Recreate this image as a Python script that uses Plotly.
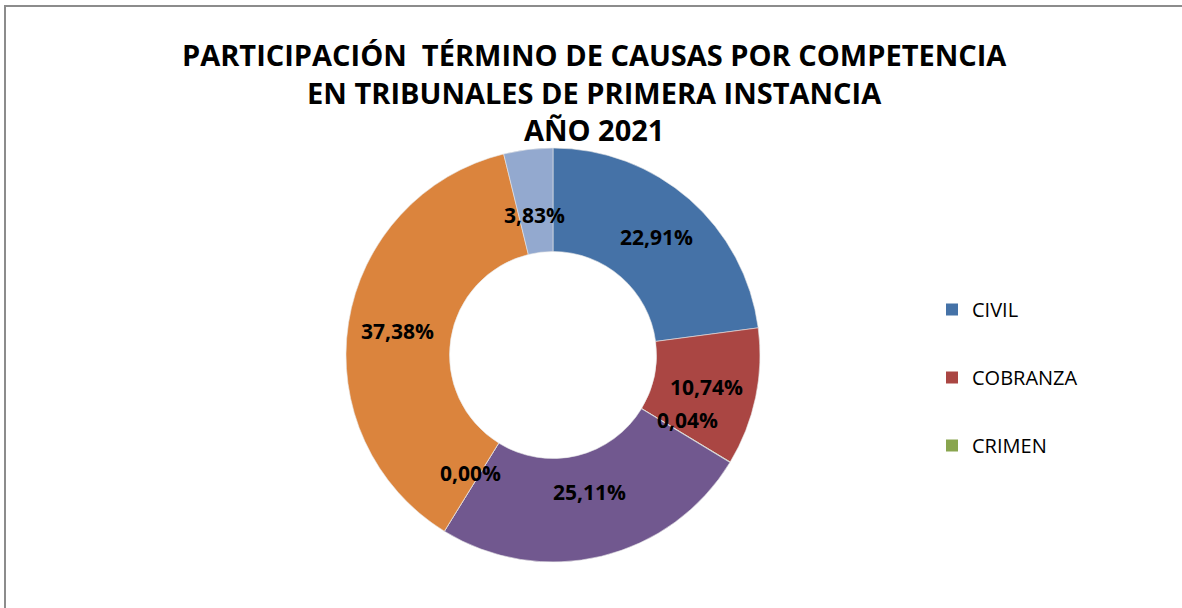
import math
import plotly.graph_objects as go

categorias = ['CIVIL', 'COBRANZA', 'CRIMEN', 'FAMILIA', 'MENORES', 'GARANTÍA', 'LABORAL']
porcentajes = [22.91, 10.74, 0.04, 25.11, 0.00, 37.38, 3.83]
colores = ['#4572A7', '#AA4643', '#89A54E', '#71588F', '#4198AF', '#DB843D', '#93A9CF']
en_leyenda = ['CIVIL', 'COBRANZA', 'CRIMEN']

W, H = 1182, 608
# pie center / radius in pixels
cx_px, cy_px, rad_px = 553, 355, 207

fig = go.Figure()
fig.add_trace(go.Pie(
    labels=categorias, values=porcentajes, sort=False, direction='clockwise',
    rotation=0, hole=0.5, textinfo='none', hoverinfo='label+percent',
    marker=dict(colors=colores, line=dict(color='#e8e8e8', width=0.6)),
    domain=dict(x=[(cx_px - rad_px) / W, (cx_px + rad_px) / W],
                y=[1 - (cy_px + rad_px) / H, 1 - (cy_px - rad_px) / H]),
    showlegend=False,
))

# data labels, placed at mid angle of each slice
total = sum(porcentajes)
acum = 0
for v in porcentajes:
    mid = (acum + v / 2) / total * 2 * math.pi
    acum += v
    r = 0.76 * rad_px
    fig.add_annotation(
        x=(cx_px + r * math.sin(mid)) / W, y=1 - (cy_px - r * math.cos(mid)) / H,
        xref='paper', yref='paper', showarrow=False,
        text='<b>' + f'{v:.2f}'.replace('.', ',') + '%</b>',
        font=dict(family='Open Sans', size=21, color='#000000'))

# title
fig.add_annotation(
    x=594 / W, y=1 - 92 / H, xref='paper', yref='paper', showarrow=False,
    xanchor='center', yanchor='middle', align='center',
    text='<b>PARTICIPACIÓN  TÉRMINO DE CAUSAS POR COMPETENCIA<br>'
         'EN TRIBUNALES DE PRIMERA INSTANCIA<br>AÑO 2021</b>',
    font=dict(family='Open Sans', size=29, color='#000000'))

# legend entries (only first three, like the original)
for i, nombre in enumerate(en_leyenda):
    fig.add_trace(go.Scatter(
        x=[None], y=[None], mode='markers', name=nombre, legendgroup=nombre,
        marker=dict(symbol='square', size=13, color=colores[categorias.index(nombre)])))

fig.add_shape(type='rect', xref='paper', yref='paper',
              x0=5 / W, x1=1.02, y0=-0.02, y1=1 - 6 / H,
              line=dict(color='#8c8c8c', width=2))

fig.update_layout(
    width=W, height=H, margin=dict(l=0, r=0, t=0, b=0),
    paper_bgcolor='white', plot_bgcolor='white',
    xaxis=dict(visible=False), yaxis=dict(visible=False),
    legend=dict(x=932 / W, y=1 - 290 / H, xanchor='left', yanchor='top',
                tracegroupgap=39, traceorder='grouped',
                font=dict(family='Open Sans', size=20, color='#000000'),
                itemsizing='constant'),
)

fig.write_html('out.html', config={'displayModeBar': False},
               post_script="document.body.style.margin='0';")
